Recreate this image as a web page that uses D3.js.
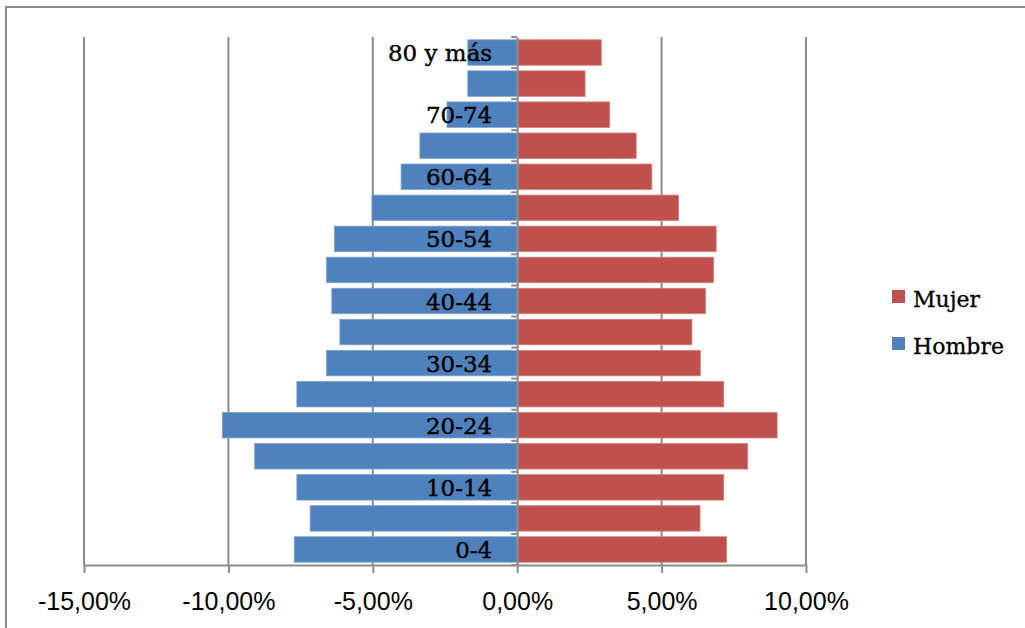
<!DOCTYPE html>
<html>
<head>
<meta charset="utf-8">
<script src="https://cdn.jsdelivr.net/npm/d3@7/dist/d3.min.js"></script>
<style>
  html, body { margin: 0; padding: 0; background: #fff; }
  svg { display: block; }
</style>
</head>
<body>
<svg id="chart" width="1025" height="628"></svg>
<script>
const categories = ["0-4","5-9","10-14","15-19","20-24","25-29","30-34","35-39","40-44","45-49","50-54","55-59","60-64","65-69","70-74","75-79","80 y más"];
const hombre = [-7.72,-7.17,-7.63,-9.09,-10.21,-7.63,-6.60,-6.14,-6.42,-6.60,-6.33,-5.03,-4.02,-3.37,-2.43,-1.71,-1.71];
const mujer  = [7.25,6.33,7.15,7.98,9.00,7.15,6.34,6.05,6.52,6.80,6.89,5.59,4.66,4.12,3.20,2.35,2.91];
const xTicks = [-15,-10,-5,0,5,10];
const shownLabels = ["0-4","10-14","20-24","30-34","40-44","50-54","60-64","70-74","80 y más"];
const seriesNames = ["Mujer","Hombre"];

const svg = d3.select("#chart");
const gridColor = "#8c8c8c";
const blue = "#4F81BD", red = "#C0504D";

// outer frame
svg.append("rect").attr("x",6).attr("y",7).attr("width",1100).attr("height",700)
  .attr("fill","none").attr("stroke",gridColor).attr("stroke-width",2);

const x = d3.scaleLinear().domain([-15,10]).range([84,806]);
const y = d3.scaleBand().domain(categories.slice().reverse()).range([37,565]).paddingInner(0.18).paddingOuter(0.09);
const yb = d3.scaleBand().domain(categories.slice().reverse()).range([37,565]);

// gridlines
svg.append("g").selectAll("line").data(xTicks.filter(d=>d!==0)).join("line")
  .attr("x1",d=>x(d)).attr("x2",d=>x(d)).attr("y1",37).attr("y2",565)
  .attr("stroke",gridColor).attr("stroke-width",2);

// bars
const rows = categories.map((c,i)=>({c, h:hombre[i], m:mujer[i]}));
svg.append("g").selectAll("rect").data(rows).join("rect")
  .attr("x",d=>x(d.h)).attr("width",d=>x(0)-x(d.h))
  .attr("y",d=>y(d.c)).attr("height",y.bandwidth())
  .attr("fill",blue).attr("stroke","#7fa3d1").attr("stroke-width",0.8);
svg.append("g").selectAll("rect").data(rows).join("rect")
  .attr("x",x(0)).attr("width",d=>x(d.m)-x(0))
  .attr("y",d=>y(d.c)).attr("height",y.bandwidth())
  .attr("fill",red).attr("stroke","#d27f7d").attr("stroke-width",0.8);

// x axis
const xAxis = d3.axisBottom(x).tickValues(xTicks).tickSize(8).tickSizeOuter(0)
  .tickFormat(d => d.toFixed(2).replace(".",",") + "%");
const gx = svg.append("g").attr("transform","translate(0,565)").call(xAxis);
gx.select(".domain").attr("stroke",gridColor).attr("stroke-width",2);
gx.selectAll(".tick line").attr("stroke",gridColor).attr("stroke-width",2);
gx.selectAll(".tick text").attr("fill","#000").attr("font-family","'Liberation Sans', Arial, sans-serif")
  .attr("font-size",25).attr("y",null).attr("dy",null).attr("transform","translate(0,45)");

// y axis at zero
const yAxis = d3.axisLeft(yb).tickSize(0).tickFormat(()=> "");
const gy = svg.append("g").attr("transform",`translate(${x(0)},0)`).call(yAxis);
gy.select(".domain").attr("stroke",gridColor).attr("stroke-width",2);
// band boundary ticks
const bounds = categories.map(c=>yb(c)).concat([565]);
svg.append("g").selectAll("line").data(bounds).join("line")
  .attr("x1",x(0)-6).attr("x2",x(0)).attr("y1",d=>d).attr("y2",d=>d)
  .attr("stroke",gridColor).attr("stroke-width",2);

// category labels
svg.append("g").selectAll("text").data(shownLabels).join("text")
  .attr("x",x(0)-25).attr("y",d=>yb(d)+yb.bandwidth()/2).attr("dy","0.37em")
  .attr("text-anchor","end").attr("font-family","'DejaVu Serif', serif").attr("font-size",23)
  .attr("fill","#000").attr("stroke","#000").attr("stroke-width",0.4).text(d=>d);

// legend
const colors = {Mujer: red, Hombre: blue};
const lg = svg.append("g").selectAll("g").data(seriesNames).join("g")
  .attr("transform",(d,i)=>`translate(892,${290 + i*47})`);
lg.append("rect").attr("width",13).attr("height",13).attr("fill",d=>colors[d]);
lg.append("text").attr("x",21).attr("y",17).attr("font-family","'DejaVu Serif', serif")
  .attr("font-size",22).attr("fill","#000").attr("stroke","#000").attr("stroke-width",0.3).text(d=>d);
</script>
</body>
</html>
